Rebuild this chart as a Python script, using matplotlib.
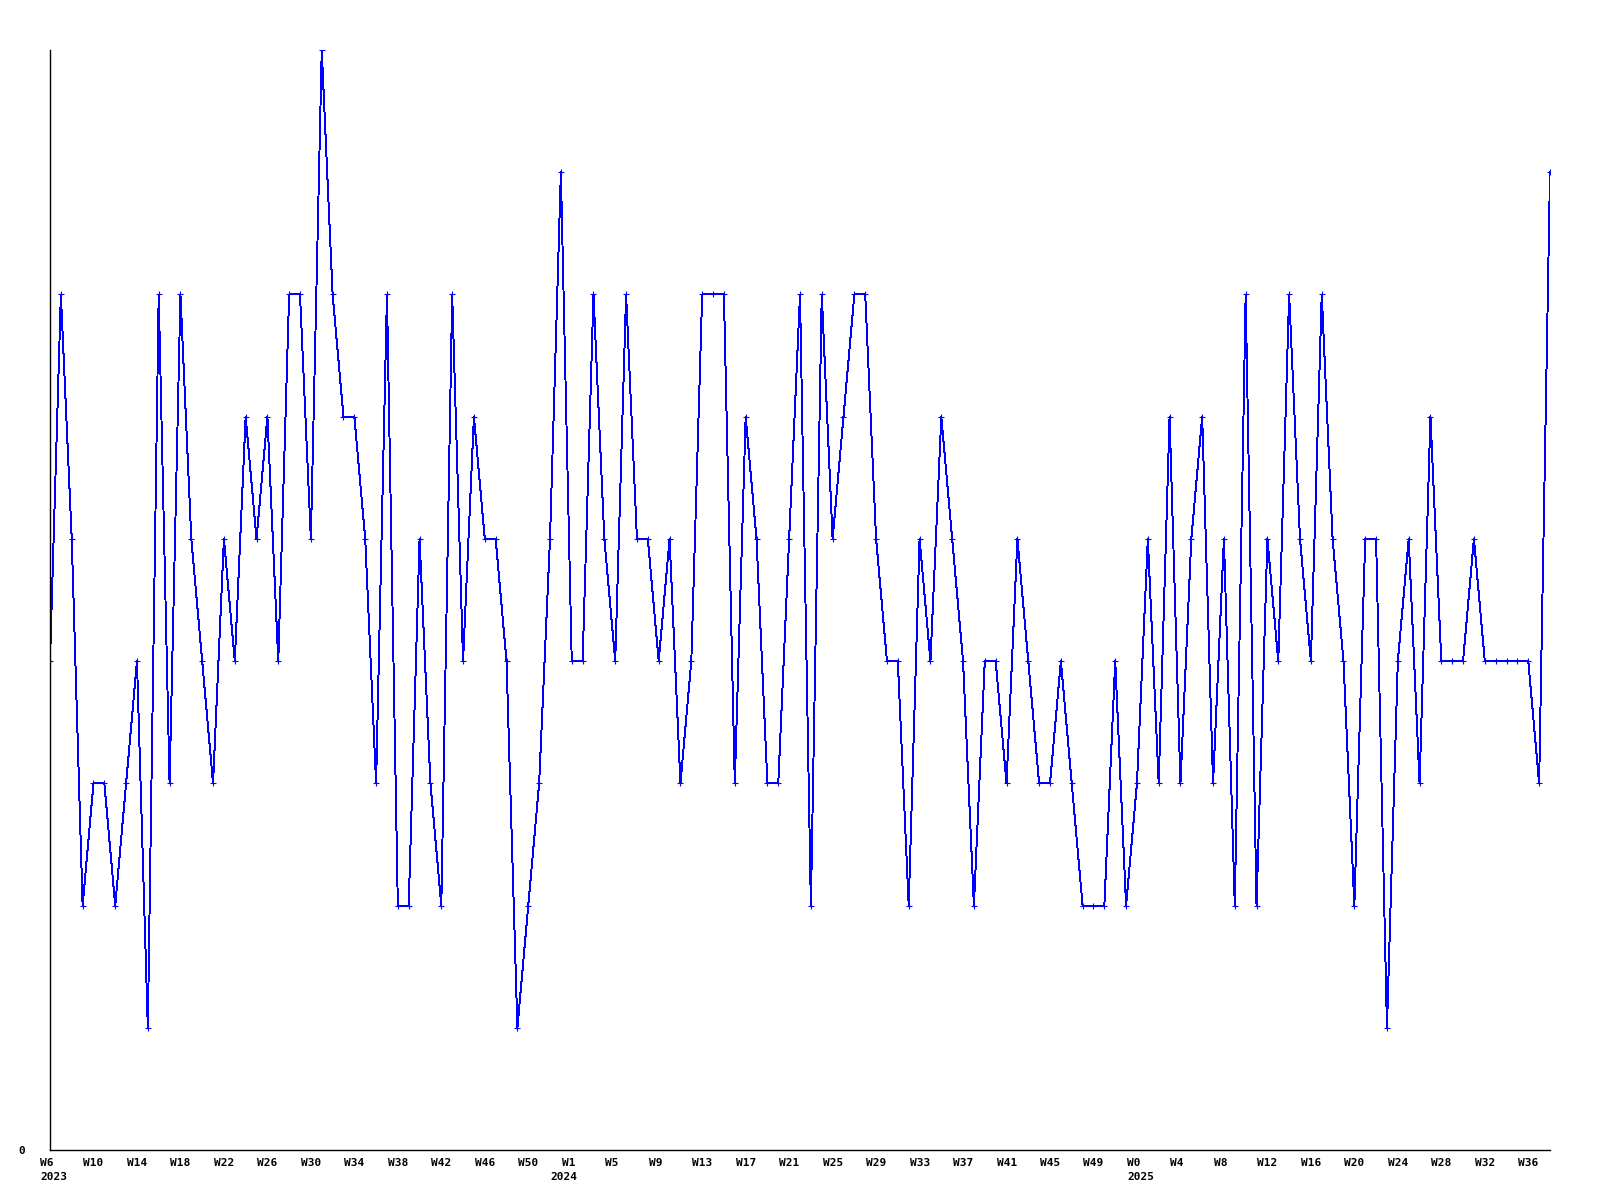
import matplotlib
matplotlib.use("Agg")
from matplotlib import pyplot as plt
from matplotlib.transforms import ScaledTranslation, blended_transform_factory

# weekly values, 2023 W6 .. 2025 W38
values = [4, 7, 5, 2, 3, 3, 2, 3, 4, 1, 7, 3, 7, 5, 4, 3, 5, 4, 6, 5, 6, 4,
          7, 7, 5, 9, 7, 6, 6, 5, 3, 7, 2, 2, 5, 3, 2, 7, 4, 6, 5, 5, 4, 1, 2, 3,
          5, 8, 4, 4, 7, 5, 4, 7, 5, 5, 4, 5, 3, 4, 7, 7, 7, 3, 6, 5, 3, 3, 5, 7,
          2, 7, 5, 6, 7, 7, 5, 4, 4, 2, 5, 4, 6, 5, 4, 2, 4, 4, 3, 5, 4, 3, 3, 4,
          3, 2, 2, 2, 4, 2, 3, 5, 3, 6, 3, 5, 6, 3, 5, 2, 7, 2, 5, 4, 7, 5, 4, 7,
          5, 4, 2, 5, 5, 1, 4, 5, 3, 6, 4, 4, 4, 5, 4, 4, 4, 4, 4, 3, 8]

week_labels = ['W6', 'W10', 'W14', 'W18', 'W22', 'W26', 'W30', 'W34', 'W38', 'W42', 'W46', 'W50',
               'W1', 'W5', 'W9', 'W13', 'W17', 'W21', 'W25', 'W29', 'W33', 'W37', 'W41', 'W45', 'W49',
               'W0', 'W4', 'W8', 'W12', 'W16', 'W20', 'W24', 'W28', 'W32', 'W36']
TICK_STEP = 4

years = ['2023', '2024', '2025']
year_pos = [0, 47, 100]

FONT = dict(family='DejaVu Sans Mono', weight='bold', size=8)

fig = plt.figure(figsize=(16, 12), dpi=100)
ax = fig.add_axes([50 / 1600, 50 / 1200, 1500 / 1600, 1100 / 1200])

x = list(range(len(values)))
ax.plot(x, values, color='#0000ff', lw=0.7, antialiased=False,
        marker='+', ms=4, mew=0.8)

ax.set_xlim(0, len(values) - 1)
ax.set_ylim(0, 9)

for side in ['top', 'right']:
    ax.spines[side].set_visible(False)
for side in ['left', 'bottom']:
    ax.spines[side].set_linewidth(1)
    ax.spines[side].set_color('black')

ax.set_yticks([0])
ax.set_yticklabels(['0'], **FONT)
ax.tick_params(axis='y', length=0, pad=18)

ax.set_xticks([i * TICK_STEP for i in range(len(week_labels))])
ax.set_xticklabels(week_labels, ha='left', **FONT)
ax.tick_params(axis='x', length=0, pad=6)
shift = ScaledTranslation(-10 / 100, 0, fig.dpi_scale_trans)
for lab in ax.get_xticklabels():
    lab.set_transform(lab.get_transform() + shift)

trans = blended_transform_factory(ax.transData, ax.transAxes)
for yr, pos in zip(years, year_pos):
    ax.text(pos, 0, yr, transform=trans + ScaledTranslation(-10 / 100, -22 / 100, fig.dpi_scale_trans),
            ha='left', va='top', **FONT)

fig.savefig('out.png', dpi=100)
